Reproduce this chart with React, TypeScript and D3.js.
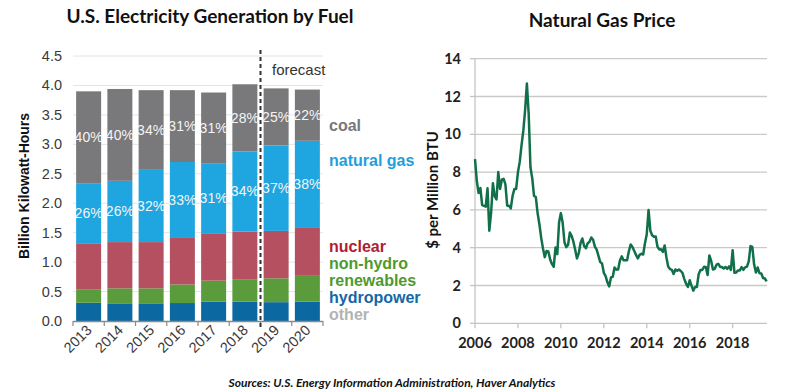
import { useEffect, useRef } from "react";
import * as d3 from "d3";

const years = ["2013", "2014", "2015", "2016", "2017", "2018", "2019", "2020"];
// segment values, billion kWh
const hydropower = [0.31, 0.3, 0.29, 0.305, 0.33, 0.33, 0.32, 0.33];
const renewables = [0.23, 0.255, 0.265, 0.315, 0.355, 0.38, 0.405, 0.45];
const nuclear = [0.78, 0.785, 0.785, 0.79, 0.805, 0.81, 0.805, 0.8];
const naturalGas = [1.02, 1.04, 1.24, 1.29, 1.19, 1.36, 1.45, 1.48];
const coal = [1.56, 1.56, 1.34, 1.22, 1.2, 1.14, 0.97, 0.87];
const gasPct = ["26%", "26%", "32%", "33%", "31%", "34%", "37%", "38%"];
const coalPct = ["40%", "40%", "34%", "31%", "31%", "28%", "25%", "22%"];
const genTicks = [0, 0.5, 1, 1.5, 2, 2.5, 3, 3.5, 4, 4.5];

const legendItems = [
  { label: "coal", color: "#77777a", y: 131 },
  { label: "natural gas", color: "#1ea0dc", y: 166 },
  { label: "nuclear", color: "#b01c34", y: 252 },
  { label: "non-hydro", color: "#4f9a30", y: 269 },
  { label: "renewables", color: "#4f9a30", y: 286 },
  { label: "hydropower", color: "#1468a6", y: 303 },
  { label: "other", color: "#b3b3b3", y: 320 },
];

// Henry Hub monthly, Jan 2006 - Aug 2019, $/MMBtu
const gasPrice = [
  8.69, 7.54, 6.89, 7.16, 6.25, 6.21, 6.17, 7.14, 4.9, 5.85, 7.41, 6.73,
  6.55, 8.0, 7.11, 7.6, 7.64, 7.35, 6.22, 6.22, 6.08, 6.74, 7.1, 7.11,
  7.99, 8.54, 9.41, 10.18, 11.27, 12.69, 11.09, 8.26, 7.67, 6.74, 6.68, 5.82,
  5.24, 4.52, 3.96, 3.5, 3.83, 3.8, 3.38, 3.14, 2.99, 4.01, 3.66, 5.35,
  5.83, 5.32, 4.29, 4.03, 4.14, 4.8, 4.63, 4.32, 3.89, 3.43, 3.71, 4.25,
  4.49, 4.09, 3.97, 4.24, 4.31, 4.54, 4.42, 4.06, 3.9, 3.57, 3.24, 3.17,
  2.67, 2.5, 2.17, 1.95, 2.43, 2.46, 2.95, 2.84, 2.85, 3.32, 3.54, 3.34,
  3.33, 3.33, 3.81, 4.17, 4.04, 3.83, 3.62, 3.43, 3.62, 3.68, 3.64, 4.24,
  4.71, 6.0, 4.9, 4.66, 4.58, 4.59, 4.05, 3.91, 3.92, 3.78, 4.12, 3.48,
  2.99, 2.87, 2.83, 2.61, 2.85, 2.78, 2.84, 2.77, 2.66, 2.34, 2.09, 1.93,
  2.28, 1.99, 1.73, 1.92, 1.92, 2.59, 2.82, 2.82, 2.99, 2.98, 2.55, 3.59,
  3.3, 2.85, 2.88, 3.1, 3.15, 2.98, 2.98, 2.9, 2.98, 2.88, 3.01, 2.82,
  3.87, 2.67, 2.69, 2.8, 2.8, 2.97, 2.83, 2.96, 3.0, 3.28, 4.09, 4.04,
  3.11, 2.69, 2.95, 2.65, 2.64, 2.4, 2.37, 2.22,
];
const priceTicks = [0, 2, 4, 6, 8, 10, 12, 14];
const yearTicks = [2006, 2008, 2010, 2012, 2014, 2016, 2018];

const ARIAL = "'Liberation Sans', Arial, sans-serif";
const CALIBRI = "Lato, 'Open Sans', sans-serif";

export default function App() {
  const ref = useRef<SVGSVGElement | null>(null);

  useEffect(() => {
    if (!ref.current) return;
    const svg = d3.select(ref.current);
    svg.selectAll("*").remove();

    // ---------- left: generation stacked bars ----------
    const x = d3.scaleBand<string>().domain(years).range([73, 323]).paddingInner(0.2).paddingOuter(0.1);
    const y = d3.scaleLinear().domain([0, 4.5]).range([321, 56]);

    const left = svg.append("g");
    left
      .append("text")
      .attr("x", 210)
      .attr("y", 23)
      .attr("text-anchor", "middle")
      .attr("font-family", CALIBRI)
      .attr("font-weight", 700)
      .attr("font-size", 19)
      .attr("fill", "#111")
      .text("U.S. Electricity Generation by Fuel");

    left
      .selectAll("line.grid")
      .data(genTicks.slice(1))
      .join("line")
      .attr("x1", 73)
      .attr("x2", 323)
      .attr("y1", (d) => y(d))
      .attr("y2", (d) => y(d))
      .attr("stroke", "#e4e4e4")
      .attr("stroke-width", 1);

    left
      .selectAll("text.ytick")
      .data(genTicks)
      .join("text")
      .attr("x", 62)
      .attr("y", (d) => y(d) + 5)
      .attr("text-anchor", "end")
      .attr("font-family", ARIAL)
      .attr("font-size", 14.5)
      .attr("fill", "#3a3a3a")
      .text((d) => d.toFixed(1));

    const rows = years.map((yr, i) => ({
      year: yr,
      hydropower: hydropower[i],
      renewables: renewables[i],
      nuclear: nuclear[i],
      gas: naturalGas[i],
      coal: coal[i],
    }));
    const keys = ["hydropower", "renewables", "nuclear", "gas", "coal"];
    const fills: Record<string, string> = {
      hydropower: "#0b68a0",
      renewables: "#5a9b3c",
      nuclear: "#b4505f",
      gas: "#1fa6e0",
      coal: "#79797b",
    };
    const stacked = d3.stack<any>().keys(keys)(rows);

    left
      .selectAll("g.layer")
      .data(stacked)
      .join("g")
      .attr("fill", (d) => fills[d.key])
      .selectAll("rect")
      .data((d) => d)
      .join("rect")
      .attr("x", (d) => x(d.data.year)!)
      .attr("width", x.bandwidth())
      .attr("y", (d) => y(d[1]))
      .attr("height", (d) => y(d[0]) - y(d[1]));

    const gasLayer = stacked[3];
    const coalLayer = stacked[4];
    const pctLabel = (layer: any, labels: string[]) =>
      left
        .append("g")
        .selectAll("text")
        .data(layer)
        .join("text")
        .attr("x", (d: any) => x(d.data.year)! + x.bandwidth() / 2)
        .attr("y", (d: any) => (y(d[0]) + y(d[1])) / 2 + 5)
        .attr("text-anchor", "middle")
        .attr("font-family", ARIAL)
        .attr("font-size", 14)
        .attr("fill", "#f4f4f4")
        .text((_: any, i: number) => labels[i]);
    pctLabel(gasLayer, gasPct);
    pctLabel(coalLayer, coalPct);

    // baseline + ticks
    left
      .append("line")
      .attr("x1", 73)
      .attr("x2", 323)
      .attr("y1", 321.5)
      .attr("y2", 321.5)
      .attr("stroke", "#8a8a8a")
      .attr("stroke-width", 1.5);
    left
      .selectAll("line.xtick")
      .data(d3.range(years.length + 1))
      .join("line")
      .attr("x1", (i) => 73 + i * x.step())
      .attr("x2", (i) => 73 + i * x.step())
      .attr("y1", 321)
      .attr("y2", 326)
      .attr("stroke", "#8a8a8a")
      .attr("stroke-width", 1.2);

    left
      .selectAll("text.xlab")
      .data(years)
      .join("text")
      .attr("transform", (d) => `translate(${x(d)! + x.bandwidth() / 2 + 4},${331}) rotate(-45)`)
      .attr("text-anchor", "end")
      .attr("font-family", ARIAL)
      .attr("font-size", 14.5)
      .attr("fill", "#3a3a3a")
      .text((d) => d);

    // forecast divider
    const fx = 73 + 6 * x.step();
    left
      .append("line")
      .attr("x1", fx)
      .attr("x2", fx)
      .attr("y1", 50)
      .attr("y2", 327)
      .attr("stroke", "#333")
      .attr("stroke-width", 2)
      .attr("stroke-dasharray", "4,3");
    left
      .append("text")
      .attr("x", 272)
      .attr("y", 75)
      .attr("font-family", ARIAL)
      .attr("font-size", 15)
      .attr("fill", "#333")
      .text("forecast");

    left
      .append("text")
      .attr("transform", "translate(29,186) rotate(-90)")
      .attr("text-anchor", "middle")
      .attr("font-family", ARIAL)
      .attr("font-weight", 700)
      .attr("font-size", 14)
      .attr("fill", "#111")
      .text("Billion Kilowatt-Hours");

    left
      .selectAll("text.legend")
      .data(legendItems)
      .join("text")
      .attr("x", 329)
      .attr("y", (d) => d.y)
      .attr("font-family", ARIAL)
      .attr("font-weight", 700)
      .attr("font-size", 16)
      .attr("fill", (d) => d.color)
      .text((d) => d.label);

    // ---------- right: natural gas price ----------
    const px = d3.scaleLinear().domain([2006, 2019.6]).range([475, 767]);
    const py = d3.scaleLinear().domain([0, 14]).range([323.3, 58.7]);
    const right = svg.append("g");

    right
      .append("text")
      .attr("x", 602)
      .attr("y", 27)
      .attr("text-anchor", "middle")
      .attr("font-family", CALIBRI)
      .attr("font-weight", 700)
      .attr("font-size", 19)
      .attr("fill", "#111")
      .text("Natural Gas Price");

    right
      .selectAll("line.grid")
      .data(priceTicks.slice(1))
      .join("line")
      .attr("x1", 475)
      .attr("x2", 767)
      .attr("y1", (d) => py(d))
      .attr("y2", (d) => py(d))
      .attr("stroke", "#c9c9c9")
      .attr("stroke-width", 1.3);

    right
      .append("line")
      .attr("x1", 475)
      .attr("x2", 475)
      .attr("y1", py(14))
      .attr("y2", py(0))
      .attr("stroke", "#c4c4c4")
      .attr("stroke-width", 1.3);
    right
      .append("line")
      .attr("x1", 475)
      .attr("x2", 767)
      .attr("y1", py(0))
      .attr("y2", py(0))
      .attr("stroke", "#c4c4c4")
      .attr("stroke-width", 1.3);
    right
      .selectAll("line.ytick")
      .data(priceTicks)
      .join("line")
      .attr("x1", 470)
      .attr("x2", 475)
      .attr("y1", (d) => py(d))
      .attr("y2", (d) => py(d))
      .attr("stroke", "#c4c4c4")
      .attr("stroke-width", 1.3);
    right
      .selectAll("line.xtick")
      .data(yearTicks)
      .join("line")
      .attr("x1", (d) => px(d))
      .attr("x2", (d) => px(d))
      .attr("y1", py(0))
      .attr("y2", py(0) + 5)
      .attr("stroke", "#c4c4c4")
      .attr("stroke-width", 1.3);

    right
      .selectAll("text.ylab")
      .data(priceTicks)
      .join("text")
      .attr("x", 461)
      .attr("y", (d) => py(d) + 5)
      .attr("text-anchor", "end")
      .attr("font-family", CALIBRI)
      .attr("font-weight", 700)
      .attr("font-size", 14.5)
      .attr("fill", "#222")
      .text((d) => d);
    right
      .selectAll("text.xlab")
      .data(yearTicks)
      .join("text")
      .attr("x", (d) => px(d))
      .attr("y", 348)
      .attr("text-anchor", "middle")
      .attr("font-family", CALIBRI)
      .attr("font-weight", 700)
      .attr("font-size", 14.5)
      .attr("fill", "#222")
      .text((d) => d);

    right
      .append("text")
      .attr("transform", "translate(438,190) rotate(-90)")
      .attr("text-anchor", "middle")
      .attr("font-family", CALIBRI)
      .attr("font-weight", 700)
      .attr("font-size", 15)
      .attr("fill", "#111")
      .text("$ per Million BTU");

    const line = d3
      .line<number>()
      .x((_, i) => px(2006 + i / 12))
      .y((d) => py(d));
    right
      .append("path")
      .datum(gasPrice)
      .attr("d", line)
      .attr("fill", "none")
      .attr("stroke", "#11704a")
      .attr("stroke-width", 2.5)
      .attr("stroke-linejoin", "round");

    svg
      .append("text")
      .attr("x", 392)
      .attr("y", 387)
      .attr("text-anchor", "middle")
      .attr("font-family", CALIBRI)
      .attr("font-weight", 700)
      .attr("font-style", "italic")
      .attr("font-size", 12)
      .attr("fill", "#111")
      .text("Sources: U.S. Energy Information Administration, Haver Analytics");
  }, []);

  return (
    <div style={{ position: "absolute", left: 0, top: 0, width: 800, height: 391, background: "#fff" }}>
      <svg ref={ref} width={800} height={391} />
    </div>
  );
}
